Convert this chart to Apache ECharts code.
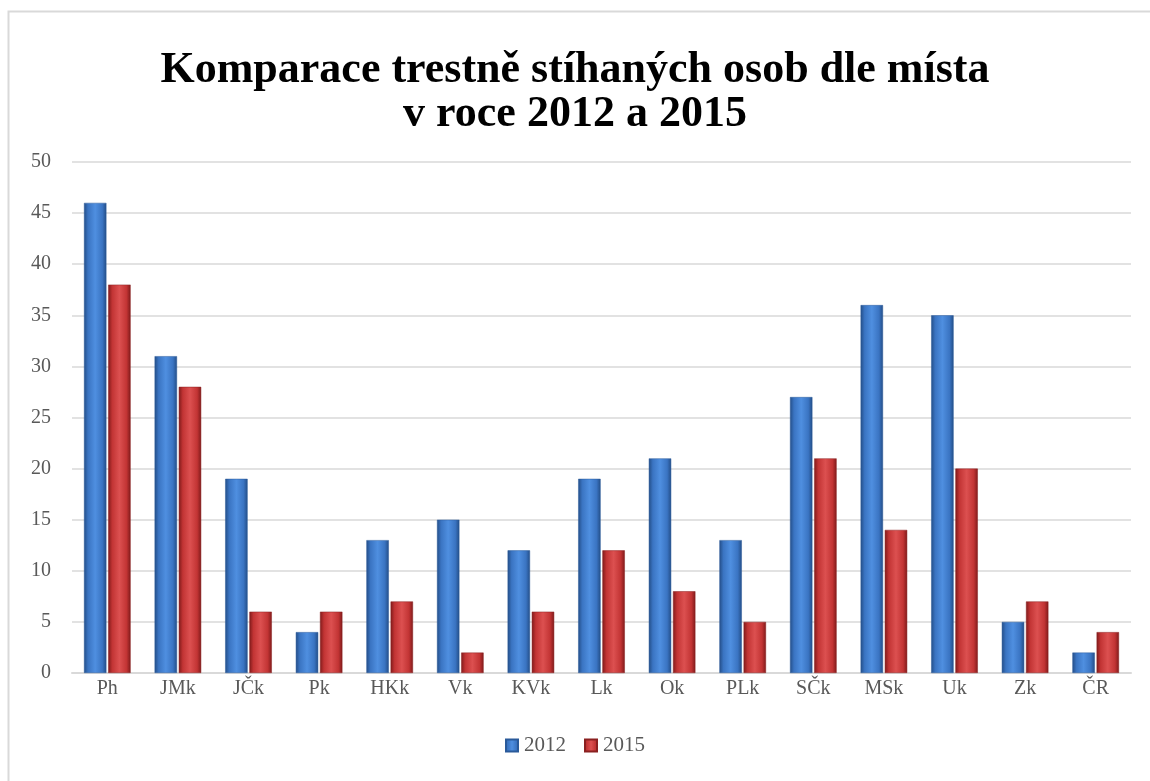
<!DOCTYPE html>
<html>
<head>
<meta charset="utf-8">
<script src="https://cdn.jsdelivr.net/npm/echarts@6/dist/echarts.min.js"></script>
<style>
  html, body { margin: 0; padding: 0; background: #fff; }
  #chart { width: 1150px; height: 781px; }
</style>
</head>
<body>
<div id="chart"></div>
<script>
  var categories = ['Ph', 'JMk', 'JČk', 'Pk', 'HKk', 'Vk', 'KVk', 'Lk', 'Ok', 'PLk', 'SČk', 'MSk', 'Uk', 'Zk', 'ČR'];
  var values2012 = [46, 31, 19, 4, 13, 15, 12, 19, 21, 13, 27, 36, 35, 5, 2];
  var values2015 = [38, 28, 6, 6, 7, 2, 6, 12, 8, 5, 21, 14, 20, 7, 4];
  var seriesNames = ['2012', '2015'];

  // bevel look: dark edges, lighter middle
  function bevel(edge, mid, light) {
    return new echarts.graphic.LinearGradient(0, 0, 1, 0, [
      { offset: 0, color: edge },
      { offset: 0.18, color: mid },
      { offset: 0.5, color: light },
      { offset: 0.82, color: mid },
      { offset: 1, color: edge }
    ]);
  }

  var chart = echarts.init(document.getElementById('chart'));
  var serif = '"Liberation Serif", "DejaVu Serif", serif';

  var option = {
    backgroundColor: '#fff',
    animation: false,
    title: {
      text: 'Komparace trestně stíhaných osob dle místa\nv roce 2012 a 2015',
      left: 'center',
      top: 44,
      textStyle: {
        fontFamily: serif,
        fontWeight: 'bold',
        fontSize: 44,
        lineHeight: 44,
        color: '#000'
      }
    },
    legend: {
      bottom: 20,
      left: 'center',
      itemWidth: 12,
      itemHeight: 12,
      itemGap: 18,
      icon: 'rect',
      textStyle: { fontFamily: serif, fontSize: 21, color: '#595959', padding: [0, 0, 0, 1] },
      data: seriesNames
    },
    grid: { left: 72, right: 19, top: 162, bottom: 108 },
    xAxis: {
      type: 'category',
      data: categories,
      axisLine: { lineStyle: { color: '#d9d9d9', width: 2 } },
      axisTick: { show: false },
      axisLabel: { fontFamily: serif, fontSize: 20, color: '#595959', margin: 6 }
    },
    yAxis: {
      type: 'value',
      min: 0,
      max: 50,
      interval: 5,
      axisLine: { show: false },
      axisTick: { show: false },
      splitLine: { lineStyle: { color: '#d9d9d9', width: 1.5 } },
      axisLabel: { fontFamily: serif, fontSize: 20, color: '#595959', margin: 21 }
    },
    series: [
      {
        name: seriesNames[0],
        type: 'bar',
        data: values2012,
        barGap: '8%',
        barCategoryGap: '34%',
        itemStyle: {
          color: bevel('#234d86', '#3a74c2', '#4f8fe0'),
          borderColor: '#2a5a9a',
          borderWidth: 0.5
        }
      },
      {
        name: seriesNames[1],
        type: 'bar',
        data: values2015,
        itemStyle: {
          color: bevel('#7f1a1a', '#c23434', '#dc5050'),
          borderColor: '#8a2020',
          borderWidth: 0.5
        }
      }
    ],
    graphic: [
      {
        type: 'rect',
        shape: { x: 8.5, y: 11.5, width: 1160, height: 800 },
        style: { fill: 'none', stroke: '#d9d9d9', lineWidth: 2 },
        silent: true
      }
    ]
  };

  chart.setOption(option);
</script>
</body>
</html>
